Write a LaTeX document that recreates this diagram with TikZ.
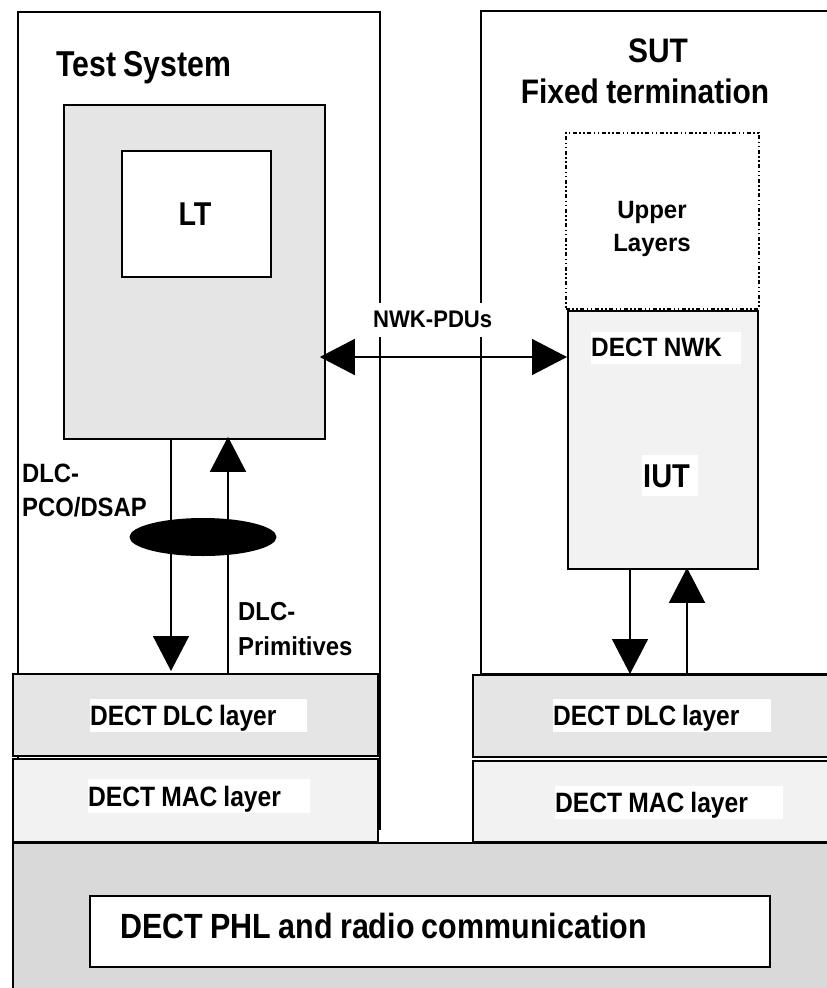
\documentclass[tikz,border=0pt]{standalone}
\usepackage{fontspec}
\setmainfont{Liberation Sans}
\usetikzlibrary{arrows.meta,shapes.geometric}
\definecolor{boxgray}{HTML}{E5E5E5}
\definecolor{lightgray}{HTML}{F2F2F2}
\definecolor{phlgray}{HTML}{D9D9D9}
\newcommand{\fsz}[2]{\bfseries\fontsize{#1}{#1}\selectfont\addfontfeature{FakeStretch=#2}\spaceskip=#2\fontdimen2\font\relax}
\newcommand{\lbox}[2]{\makebox[#1][l]{#2}}
\begin{document}
\begin{tikzpicture}[x=1pt,y=-1pt,
  box/.style={draw=black,line width=1.8pt,inner sep=0pt,anchor=north west},
  lbl/.style={fill=white,inner sep=0pt,anchor=north west},
  txt/.style={inner sep=0pt},
  conn/.style={line width=1.5pt,-{Triangle[length=35pt,width=36pt]}},
  dconn/.style={line width=1.5pt,{Triangle[length=35pt,width=36pt]}-{Triangle[length=35pt,width=36pt]}}
]
\useasboundingbox (0,0) rectangle (827,988);
\clip (0,0) rectangle (827,988);
% outer system boxes
\node[box,minimum width=362pt,minimum height=817pt] (ts) at (17,11) {};
\node[box,minimum width=440pt,minimum height=663pt] (sut) at (480,10) {};
% titles
\node[txt,anchor=base,font=\fsz{36}{0.84}] (tstitle) at (144,76) {Test System};
\node[txt,anchor=base,font=\fsz{34}{0.88}] (suttitle) at (658,62) {SUT};
\node[txt,anchor=base,font=\fsz{34}{0.88}] (fixtitle) at (645,103) {Fixed termination};
% NWK-PDUs label (white background interrupts the vertical lines)
\node[lbl,font=\fsz{24}{0.92},text height=24pt,text depth=10pt] (pdulbl) at (372,303) {\lbox{122pt}{\hspace*{1pt}NWK-PDUs}};
% test system inner box and LT
\node[box,fill=boxgray,minimum width=261pt,minimum height=334pt] (tsin) at (63,104) {};
\node[box,fill=white,minimum width=149pt,minimum height=126pt] (lt) at (121,150) {};
\node[txt,anchor=base,font=\fsz{33}{0.87}] (lttext) at (195,225) {LT};
% upper layers
\node[box,line width=1.5pt,dash pattern=on 4pt off 2.5pt on 1.5pt off 2.5pt on 1.5pt off 2.5pt,minimum width=193pt,minimum height=176pt] (upper) at (565,132) {};
\node[txt,anchor=base,font=\fsz{25}{0.96}] (uppertext) at (652,218) {Upper};
\node[txt,anchor=base,font=\fsz{25}{0.96}] (layerstext) at (652,251) {Layers};
% IUT box
\node[box,fill=lightgray,minimum width=190pt,minimum height=258pt] (iut) at (567,310) {};
\node[lbl,font=\fsz{26.5}{0.92},text height=24pt,text depth=8pt] (nwktext) at (591,332) {\lbox{150pt}{DECT NWK}};
\node[lbl,font=\fsz{33}{0.88},text height=32pt,text depth=9pt] (iuttext) at (642,455) {\lbox{56pt}{\hspace*{1pt}IUT}};
% layers left
\node[box,fill=boxgray,minimum width=365pt,minimum height=82pt] (dlcL) at (12,673) {};
\node[box,fill=lightgray,minimum width=365pt,minimum height=83pt] (macL) at (12,758) {};
\node[lbl,font=\fsz{28}{0.875},text height=26pt,text depth=7pt] (dlcLt) at (90,699) {\lbox{217pt}{DECT DLC layer}};
\node[lbl,font=\fsz{28}{0.88},text height=27pt,text depth=7pt] (macLt) at (88,779) {\lbox{222pt}{DECT MAC layer}};
% layers right
\node[box,fill=boxgray,minimum width=440pt,minimum height=82pt] (dlcR) at (472,674) {};
\node[box,fill=lightgray,minimum width=440pt,minimum height=81pt] (macR) at (472,760) {};
\node[lbl,font=\fsz{28}{0.875},text height=26pt,text depth=7pt] (dlcRt) at (553,699) {\lbox{218pt}{DECT DLC layer}};
\node[lbl,font=\fsz{28}{0.88},text height=26pt,text depth=7pt] (macRt) at (555,786) {\lbox{228pt}{DECT MAC layer}};
% PHL
\node[box,fill=phlgray,minimum width=900pt,minimum height=200pt] (phl) at (12,842) {};
\node[box,fill=white,minimum width=680pt,minimum height=71pt] (phlin) at (89,895) {};
\node[txt,anchor=base west,font=\fsz{35}{0.87}] (phltext) at (120,938) {DECT PHL and radio communication};
% side labels
\node[txt,anchor=base west,font=\fsz{26.5}{0.9}] (pco1) at (22,482) {DLC-};
\node[txt,anchor=base west,font=\fsz{26.5}{0.9}] (pco2) at (22,516) {PCO/DSAP};
\node[txt,anchor=base west,font=\fsz{26}{0.92}] (prim1) at (238,620) {DLC-};
\node[txt,anchor=base west,font=\fsz{26}{0.92}] (prim2) at (238,655) {Primitives};
% connectors
\coordinate (pdu) at (0,357);
\coordinate (dl) at (171,0);
\coordinate (ul) at (228,0);
\coordinate (dr) at (630,0);
\coordinate (ur) at (687,0);
\draw[dconn,shorten <=-6pt] (tsin.east |- pdu) -- (iut.west |- pdu);
\draw[conn,shorten >=2pt] (dl |- tsin.south) -- (dl |- dlcL.north);
\draw[conn,shorten >=-3pt] (ul |- dlcL.north) -- (ul |- tsin.south);
\draw[conn] (dr |- iut.south) -- (dr |- dlcR.north);
\draw[conn,shorten >=-2pt] (ur |- dlcR.north) -- (ur |- iut.south);
\node[ellipse,fill=black,inner sep=0pt,minimum width=147pt,minimum height=38pt] (sap) at (203,537) {};
\end{tikzpicture}
\end{document}
